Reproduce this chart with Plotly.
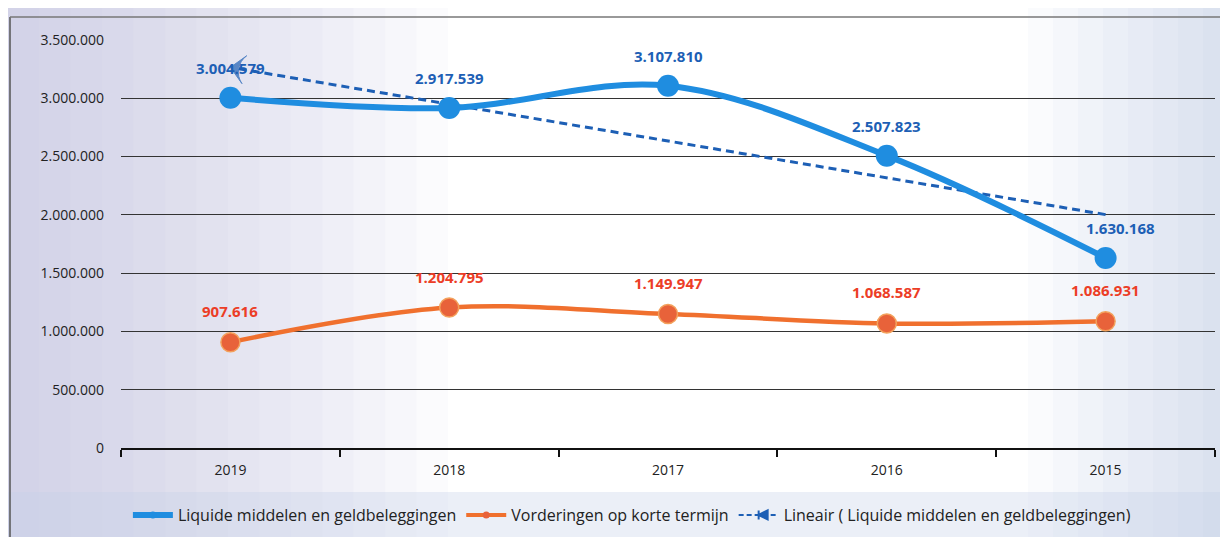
import plotly.graph_objects as go
import numpy as np

years = ["2019", "2018", "2017", "2016", "2015"]
liquide = [3004579, 2917539, 3107810, 2507823, 1630168]
vorderingen = [907616, 1204795, 1149947, 1068587, 1086931]
yticks = [0, 500000, 1000000, 1500000, 2000000, 2500000, 3000000, 3500000]

name_liq = "Liquide middelen en geldbeleggingen"
name_vord = "Vorderingen op korte termijn"
name_lin = "Lineair ( Liquide middelen en geldbeleggingen)"

BLUE = "#1f8de0"
BLUE_TXT = "#1d5fb5"
ORANGE = "#f0702e"
ORANGE_TXT = "#ec3d26"

def fmt(v):
    return f"{v:,}".replace(",", ".")

# linear trend (Excel-style) of the liquid series
xs = np.arange(1, len(liquide) + 1)
slope, icpt = np.polyfit(xs, liquide, 1)
trend = [slope * x + icpt for x in xs]

# page offset (default body margin) and plot area in screen pixels
OFF = 8
FW, FH = 1228 - OFF, 537 - OFF
L, R, T, B = 121, 1215, 40, 448
W, H = R - L, B - T
def px(x):
    return (x - L) / W
def py(y):
    return (B - y) / H

fig = go.Figure()

# trend line, drawn from 2015 back to 2019 so the arrow points left
fig.add_trace(go.Scatter(
    x=years[::-1], y=trend[::-1], mode="lines+markers",
    line=dict(color=BLUE_TXT, width=3, dash="8px,5px"),
    marker=dict(symbol="arrow-wide", size=[0, 0, 0, 0, 20], angleref="previous",
                color=BLUE_TXT, line=dict(width=1, color=BLUE_TXT)),
    showlegend=False, hoverinfo="skip"))

fig.add_trace(go.Scatter(
    x=years, y=vorderingen, mode="lines+markers", line_shape="spline",
    line=dict(color=ORANGE, width=4.5),
    marker=dict(size=19, color="#e8623a", line=dict(color="#f3a15c", width=1.5)),
    showlegend=False))

fig.add_trace(go.Scatter(
    x=years, y=liquide, mode="lines+markers", line_shape="spline",
    line=dict(color=BLUE, width=6),
    marker=dict(size=22, color=BLUE, line=dict(width=0)),
    showlegend=False))

# legend-only traces
fig.add_trace(go.Scatter(x=[None], y=[None], mode="lines+markers", name=name_liq,
                         line=dict(color=BLUE, width=6), marker=dict(size=7, color=BLUE)))
fig.add_trace(go.Scatter(x=[None], y=[None], mode="lines+markers", name=name_vord,
                         line=dict(color=ORANGE, width=4), marker=dict(size=7, color="#e8623a")))
fig.add_trace(go.Scatter(x=[None], y=[None], mode="lines+markers", name=name_lin,
                         line=dict(color=BLUE_TXT, width=2, dash="5px,3px"),
                         marker=dict(symbol="arrow-bar-left", size=9, color=BLUE_TXT,
                                     line=dict(color=BLUE_TXT, width=2))))

annotations = []
for i, v in enumerate(liquide):
    annotations.append(dict(x=i, y=v, xref="x", yref="y", text=f"<b>{fmt(v)}</b>",
                            showarrow=False, yshift=30, xshift=(15 if i == 4 else 0),
                            font=dict(size=15, color=BLUE_TXT, family="Open Sans")))
for i, v in enumerate(vorderingen):
    annotations.append(dict(x=i, y=v, xref="x", yref="y", text=f"<b>{fmt(v)}</b>",
                            showarrow=False, yshift=31,
                            font=dict(size=15, color=ORANGE_TXT, family="Open Sans")))

# background shading to resemble the scanned page
shapes = []
n = 14
for k in range(n):
    shapes.append(dict(type="rect", xref="paper", yref="paper", layer="below",
                       x0=px(OFF), x1=px(OFF + (k + 1) * 440 / n), y0=py(537), y1=py(OFF),
                       fillcolor="#aebfdc", opacity=0.055, line=dict(width=0)))
for k in range(8):
    shapes.append(dict(type="rect", xref="paper", yref="paper", layer="below",
                       x0=px(1228 - (k + 1) * 200 / 8), x1=px(1228), y0=py(537), y1=py(OFF),
                       fillcolor="#aebfdc", opacity=0.06, line=dict(width=0)))
shapes.append(dict(type="rect", xref="paper", yref="paper", layer="below",
                   x0=px(OFF), x1=px(1228), y0=py(537), y1=py(492),
                   fillcolor="#c5d2e8", opacity=0.35, line=dict(width=0)))
# chart border
shapes.append(dict(type="line", xref="paper", yref="paper", x0=px(10), x1=px(10),
                   y0=py(17), y1=py(537), line=dict(color="#555", width=1.5)))
shapes.append(dict(type="line", xref="paper", yref="paper", x0=px(10), x1=px(1222),
                   y0=py(17), y1=py(17), line=dict(color="#777", width=1.5)))
shapes.append(dict(type="line", xref="paper", yref="paper", x0=px(1222), x1=px(1222),
                   y0=py(17), y1=py(537), line=dict(color="#999", width=1)))

fig.update_layout(
    width=FW, height=FH,
    margin=dict(l=L - OFF, r=1228 - R, t=T - OFF, b=537 - B, autoexpand=False),
    paper_bgcolor="#ffffff", plot_bgcolor="rgba(0,0,0,0)",
    separators=",.",
    font=dict(family="Open Sans", color="#222"),
    showlegend=True,
    legend=dict(orientation="h", x=0.467, xanchor="center", y=py(515), yanchor="middle",
                font=dict(size=16, color="#222", family="Open Sans"),
                bgcolor="rgba(0,0,0,0)", itemwidth=40, tracegroupgap=0),
    annotations=annotations,
    shapes=shapes,
)
fig.update_xaxes(type="category", categoryorder="array", categoryarray=years,
                 range=[-0.5, 4.5], showgrid=False, showline=True, linecolor="#111",
                 linewidth=2, ticks="outside", tickson="boundaries", ticklen=7,
                 tickcolor="#111", tickwidth=2, tickfont=dict(size=14, color="#222"),
                 ticklabelstandoff=8, automargin=False)
fig.update_yaxes(range=[0, 3500000], tickvals=yticks, tickformat=",d",
                 showgrid=True, gridcolor="#333", gridwidth=1, zeroline=False,
                 showline=False, ticks="", ticklabelstandoff=16,
                 tickfont=dict(size=14, color="#222"), automargin=False)

fig.write_html("out.html")
